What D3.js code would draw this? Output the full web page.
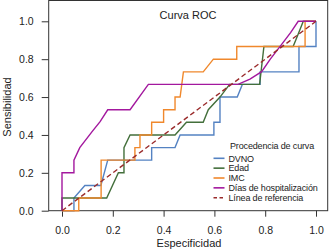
<!DOCTYPE html>
<html><head><meta charset="utf-8">
<script src="https://cdn.jsdelivr.net/npm/d3@7"></script>
<style>body{margin:0;background:#fff}svg{display:block}text{font-family:"Liberation Sans",Arial,sans-serif;fill:#222}</style>
</head><body>
<script>
const seriesNames = ["DVNO","Edad","IMC","Días de hospitalización"];
const seriesColors = ["#5482c2","#436f3b","#f0882c","#a3189e"];
const refLabel = "Línea de referencia";
const refColor = "#9a2b2b";
const xTicks = [0,0.2,0.4,0.6,0.8,1.0];
const yTicks = [0,0.2,0.4,0.6,0.8,1.0];
const dvno = [[0,0],[0.047,0],[0.047,0.067],[0.09,0.133],[0.153,0.133],[0.18,0.267],[0.353,0.267],[0.353,0.333],[0.445,0.333],[0.465,0.4],[0.598,0.4],[0.598,0.467],[0.622,0.467],[0.622,0.6],[0.69,0.6],[0.71,0.667],[0.78,0.667],[0.78,0.733],[0.933,0.733],[0.933,0.867],[1,0.867],[1,1]];
const edad = [[0,0],[0,0.067],[0.176,0.067],[0.222,0.2],[0.244,0.2],[0.244,0.333],[0.268,0.4],[0.445,0.4],[0.49,0.467],[0.556,0.467],[0.576,0.533],[0.622,0.6],[0.66,0.667],[0.778,0.667],[0.795,0.867],[0.91,0.867],[0.93,0.933],[0.95,1],[1,1]];
const imc = [[0,0],[0.066,0],[0.066,0.067],[0.154,0.067],[0.154,0.267],[0.287,0.267],[0.287,0.333],[0.307,0.333],[0.307,0.4],[0.353,0.4],[0.353,0.467],[0.4,0.467],[0.4,0.533],[0.445,0.533],[0.445,0.6],[0.465,0.6],[0.478,0.733],[0.556,0.733],[0.596,0.8],[0.688,0.8],[0.688,0.867],[0.957,0.867],[0.957,1],[1,1]];
const dias = [[0,0],[0,0.2],[0.047,0.2],[0.047,0.267],[0.07,0.333],[0.12,0.42],[0.15,0.47],[0.18,0.533],[0.268,0.533],[0.34,0.667],[0.693,0.667],[0.74,0.695],[0.786,0.734],[0.82,0.8],[0.858,0.866],[0.9,0.94],[0.93,1],[1,1]];
const curves = [dvno, edad, imc, dias];

const W=331,H=252;
const L=48.7,R=327.7,T=0.5,B=210.7;
const svg=d3.select("body").append("svg").attr("width",W).attr("height",H);
const x=d3.scaleLinear().domain([0,1]).range([62,316]);
const y=d3.scaleLinear().domain([0,1]).range([B,21.3]);

// box
svg.append("rect").attr("x",L).attr("y",T).attr("width",R-L).attr("height",B-T)
  .attr("fill","none").attr("stroke","#333").attr("stroke-width",1);

// axes
const xa=svg.append("g").attr("transform",`translate(0,${B})`)
  .call(d3.axisBottom(x).tickValues(xTicks).tickFormat(d3.format(".1f")).tickSize(6).tickPadding(10));
xa.select(".domain").remove();
const ya=svg.append("g").attr("transform",`translate(${L},0)`)
  .call(d3.axisLeft(y).tickValues(yTicks).tickFormat(d3.format(".1f")).tickSize(7).tickPadding(8));
ya.select(".domain").remove();
svg.selectAll(".tick line").attr("stroke","#333");
svg.selectAll(".tick text").attr("font-size",10.5).attr("fill","#222").style("font-family","'Liberation Sans',Arial,sans-serif");

const line=d3.line().x(d=>x(d[0])).y(d=>y(d[1]));
curves.forEach((c,i)=>{
  svg.append("path").attr("d",line(c)).attr("fill","none")
    .attr("stroke",seriesColors[i]).attr("stroke-width",1.4);
});
// reference line
svg.append("line").attr("x1",x(0)).attr("y1",y(0)).attr("x2",x(1)).attr("y2",y(1))
  .attr("stroke",refColor).attr("stroke-width",1.4).attr("stroke-dasharray","5,3");

// titles
svg.append("text").attr("x",188).attr("y",19).attr("text-anchor","middle").attr("font-size",11).text("Curva ROC");
svg.append("text").attr("x",189).attr("y",247).attr("text-anchor","middle").attr("font-size",11).text("Especificidad");
svg.append("text").attr("transform","translate(11,107) rotate(-90)").attr("text-anchor","middle").attr("font-size",11).text("Sensibilidad");

// legend
const lg=svg.append("g");
lg.append("text").attr("x",230).attr("y",148.5).attr("font-size",9).attr("letter-spacing",-0.15).text("Procedencia de curva");
const items=seriesNames.map((n,i)=>({n,c:seriesColors[i],dash:null})).concat([{n:refLabel,c:refColor,dash:"3.5,2.5"}]);
items.forEach((it,i)=>{
  const yy=158.3+i*9.85;
  lg.append("line").attr("x1",213.5).attr("x2",224.5).attr("y1",yy).attr("y2",yy)
    .attr("stroke",it.c).attr("stroke-width",1.6).attr("stroke-dasharray",it.dash);
  lg.append("text").attr("x",228.5).attr("y",yy+3.3).attr("font-size",9).attr("letter-spacing",-0.15).text(it.n);
});
</script>
</body></html>
